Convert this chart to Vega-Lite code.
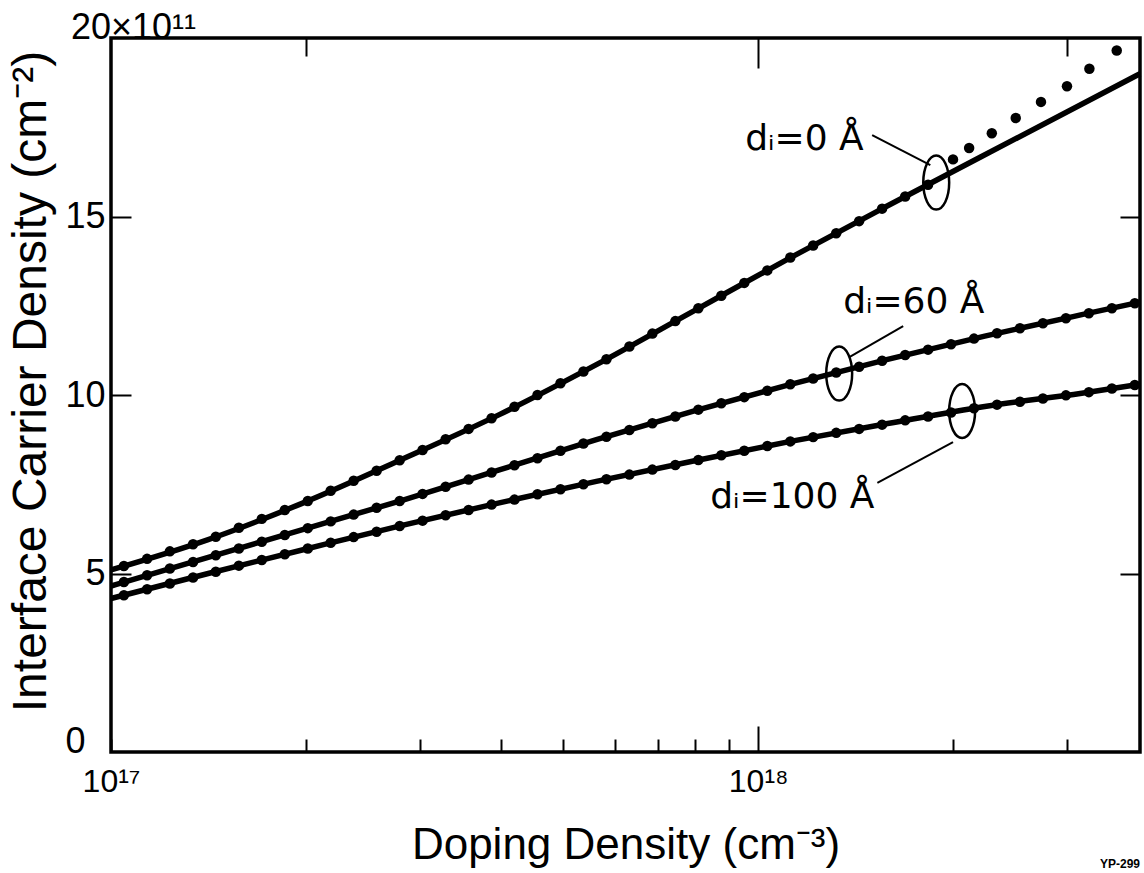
{
  "$schema": "https://vega.github.io/schema/vega-lite/v6.json",
  "width": 1029,
  "height": 714,
  "autosize": {"type": "none"},
  "padding": {"left": 111, "top": 38, "right": 4, "bottom": 121},
  "background": "white",
  "config": {
    "view": {"stroke": "black", "strokeWidth": 3.5},
    "font": "Liberation Sans",
    "axis": {"domain": false, "grid": false, "tickColor": "black", "tickWidth": 2, "labelColor": "black", "titleColor": "black", "labelFont": "Liberation Sans", "titleFont": "Liberation Sans", "titleFontWeight": "normal"}
  },
  "title": {"text": "YP-299", "orient": "bottom", "anchor": "end", "frame": "group", "fontSize": 12, "fontWeight": "bold", "offset": -8},
  "datasets": {
    "lines": [
      {"d": "0", "N": 1e17, "v": 5.1}, {"d": "0", "N": 1.413e17, "v": 5.95}, {"d": "0", "N": 1.995e17, "v": 7.0}, {"d": "0", "N": 2.818e17, "v": 8.2}, {"d": "0", "N": 3.981e17, "v": 9.45}, {"d": "0", "N": 5.623e17, "v": 10.85}, {"d": "0", "N": 7.943e17, "v": 12.35}, {"d": "0", "N": 1.122e18, "v": 13.85}, {"d": "0", "N": 1.585e18, "v": 15.3}, {"d": "0", "N": 2.512e18, "v": 17.2}, {"d": "0", "N": 3.89e18, "v": 19.0},
      {"d": "60", "N": 1e17, "v": 4.65}, {"d": "60", "N": 1.413e17, "v": 5.45}, {"d": "60", "N": 1.995e17, "v": 6.25}, {"d": "60", "N": 2.818e17, "v": 7.05}, {"d": "60", "N": 3.981e17, "v": 7.9}, {"d": "60", "N": 5.623e17, "v": 8.75}, {"d": "60", "N": 7.943e17, "v": 9.55}, {"d": "60", "N": 1.122e18, "v": 10.3}, {"d": "60", "N": 1.585e18, "v": 11.0}, {"d": "60", "N": 2.239e18, "v": 11.65}, {"d": "60", "N": 3.162e18, "v": 12.25}, {"d": "60", "N": 3.89e18, "v": 12.6},
      {"d": "100", "N": 1e17, "v": 4.3}, {"d": "100", "N": 1.413e17, "v": 5.0}, {"d": "100", "N": 1.995e17, "v": 5.68}, {"d": "100", "N": 2.818e17, "v": 6.35}, {"d": "100", "N": 3.981e17, "v": 6.98}, {"d": "100", "N": 5.623e17, "v": 7.58}, {"d": "100", "N": 7.943e17, "v": 8.15}, {"d": "100", "N": 1.122e18, "v": 8.7}, {"d": "100", "N": 1.585e18, "v": 9.2}, {"d": "100", "N": 2.239e18, "v": 9.68}, {"d": "100", "N": 3.162e18, "v": 10.05}, {"d": "100", "N": 3.89e18, "v": 10.3}
    ],
    "dots": [
      {"d": "0", "N": 1.047e17, "v": 5.21}, {"d": "0", "N": 1.137e17, "v": 5.41}, {"d": "0", "N": 1.233e17, "v": 5.62}, {"d": "0", "N": 1.339e17, "v": 5.82}, {"d": "0", "N": 1.452e17, "v": 6.03}, {"d": "0", "N": 1.576e17, "v": 6.28}, {"d": "0", "N": 1.71e17, "v": 6.53}, {"d": "0", "N": 1.856e17, "v": 6.78}, {"d": "0", "N": 2.014e17, "v": 7.03}, {"d": "0", "N": 2.185e17, "v": 7.32}, {"d": "0", "N": 2.371e17, "v": 7.6}, {"d": "0", "N": 2.573e17, "v": 7.88}, {"d": "0", "N": 2.793e17, "v": 8.17}, {"d": "0", "N": 3.03e17, "v": 8.46}, {"d": "0", "N": 3.289e17, "v": 8.76}, {"d": "0", "N": 3.569e17, "v": 9.05}, {"d": "0", "N": 3.873e17, "v": 9.35}, {"d": "0", "N": 4.202e17, "v": 9.67}, {"d": "0", "N": 4.56e17, "v": 10.0}, {"d": "0", "N": 4.949e17, "v": 10.33}, {"d": "0", "N": 5.37e17, "v": 10.66}, {"d": "0", "N": 5.828e17, "v": 11.0}, {"d": "0", "N": 6.324e17, "v": 11.36}, {"d": "0", "N": 6.863e17, "v": 11.72}, {"d": "0", "N": 7.447e17, "v": 12.07}, {"d": "0", "N": 8.082e17, "v": 12.43}, {"d": "0", "N": 8.77e17, "v": 12.78}, {"d": "0", "N": 9.517e17, "v": 13.14}, {"d": "0", "N": 1.033e18, "v": 13.49}, {"d": "0", "N": 1.121e18, "v": 13.85}, {"d": "0", "N": 1.216e18, "v": 14.19}, {"d": "0", "N": 1.32e18, "v": 14.53}, {"d": "0", "N": 1.432e18, "v": 14.87}, {"d": "0", "N": 1.554e18, "v": 15.22}, {"d": "0", "N": 1.687e18, "v": 15.56}, {"d": "0", "N": 1.83e18, "v": 15.89},
      {"d": "0", "N": 2.0e18, "v": 16.6}, {"d": "0", "N": 2.118e18, "v": 16.92}, {"d": "0", "N": 2.296e18, "v": 17.33}, {"d": "0", "N": 2.5e18, "v": 17.76}, {"d": "0", "N": 2.735e18, "v": 18.21}, {"d": "0", "N": 3.0e18, "v": 18.65}, {"d": "0", "N": 3.249e18, "v": 19.14}, {"d": "0", "N": 3.581e18, "v": 19.65},
      {"d": "60", "N": 1.047e17, "v": 4.76}, {"d": "60", "N": 1.137e17, "v": 4.95}, {"d": "60", "N": 1.233e17, "v": 5.14}, {"d": "60", "N": 1.339e17, "v": 5.32}, {"d": "60", "N": 1.452e17, "v": 5.51}, {"d": "60", "N": 1.576e17, "v": 5.7}, {"d": "60", "N": 1.71e17, "v": 5.89}, {"d": "60", "N": 1.856e17, "v": 6.08}, {"d": "60", "N": 2.014e17, "v": 6.27}, {"d": "60", "N": 2.185e17, "v": 6.46}, {"d": "60", "N": 2.371e17, "v": 6.65}, {"d": "60", "N": 2.573e17, "v": 6.84}, {"d": "60", "N": 2.793e17, "v": 7.03}, {"d": "60", "N": 3.03e17, "v": 7.23}, {"d": "60", "N": 3.289e17, "v": 7.43}, {"d": "60", "N": 3.569e17, "v": 7.63}, {"d": "60", "N": 3.873e17, "v": 7.83}, {"d": "60", "N": 4.202e17, "v": 8.03}, {"d": "60", "N": 4.56e17, "v": 8.23}, {"d": "60", "N": 4.949e17, "v": 8.44}, {"d": "60", "N": 5.37e17, "v": 8.64}, {"d": "60", "N": 5.828e17, "v": 8.83}, {"d": "60", "N": 6.324e17, "v": 9.02}, {"d": "60", "N": 6.863e17, "v": 9.21}, {"d": "60", "N": 7.447e17, "v": 9.4}, {"d": "60", "N": 8.082e17, "v": 9.59}, {"d": "60", "N": 8.77e17, "v": 9.77}, {"d": "60", "N": 9.517e17, "v": 9.94}, {"d": "60", "N": 1.033e18, "v": 10.12}, {"d": "60", "N": 1.121e18, "v": 10.3}, {"d": "60", "N": 1.216e18, "v": 10.46}, {"d": "60", "N": 1.32e18, "v": 10.63}, {"d": "60", "N": 1.432e18, "v": 10.79}, {"d": "60", "N": 1.554e18, "v": 10.96}, {"d": "60", "N": 1.687e18, "v": 11.12}, {"d": "60", "N": 1.83e18, "v": 11.27}, {"d": "60", "N": 1.986e18, "v": 11.42}, {"d": "60", "N": 2.155e18, "v": 11.58}, {"d": "60", "N": 2.339e18, "v": 11.73}, {"d": "60", "N": 2.538e18, "v": 11.87}, {"d": "60", "N": 2.754e18, "v": 12.01}, {"d": "60", "N": 2.989e18, "v": 12.15}, {"d": "60", "N": 3.243e18, "v": 12.29}, {"d": "60", "N": 3.52e18, "v": 12.43}, {"d": "60", "N": 3.819e18, "v": 12.57},
      {"d": "100", "N": 1.047e17, "v": 4.39}, {"d": "100", "N": 1.137e17, "v": 4.56}, {"d": "100", "N": 1.233e17, "v": 4.72}, {"d": "100", "N": 1.339e17, "v": 4.89}, {"d": "100", "N": 1.452e17, "v": 5.05}, {"d": "100", "N": 1.576e17, "v": 5.22}, {"d": "100", "N": 1.71e17, "v": 5.38}, {"d": "100", "N": 1.856e17, "v": 5.54}, {"d": "100", "N": 2.014e17, "v": 5.7}, {"d": "100", "N": 2.185e17, "v": 5.86}, {"d": "100", "N": 2.371e17, "v": 6.02}, {"d": "100", "N": 2.573e17, "v": 6.17}, {"d": "100", "N": 2.793e17, "v": 6.33}, {"d": "100", "N": 3.03e17, "v": 6.48}, {"d": "100", "N": 3.289e17, "v": 6.63}, {"d": "100", "N": 3.569e17, "v": 6.78}, {"d": "100", "N": 3.873e17, "v": 6.93}, {"d": "100", "N": 4.202e17, "v": 7.07}, {"d": "100", "N": 4.56e17, "v": 7.22}, {"d": "100", "N": 4.949e17, "v": 7.36}, {"d": "100", "N": 5.37e17, "v": 7.5}, {"d": "100", "N": 5.828e17, "v": 7.64}, {"d": "100", "N": 6.324e17, "v": 7.77}, {"d": "100", "N": 6.863e17, "v": 7.91}, {"d": "100", "N": 7.447e17, "v": 8.04}, {"d": "100", "N": 8.082e17, "v": 8.18}, {"d": "100", "N": 8.77e17, "v": 8.31}, {"d": "100", "N": 9.517e17, "v": 8.44}, {"d": "100", "N": 1.033e18, "v": 8.57}, {"d": "100", "N": 1.121e18, "v": 8.7}, {"d": "100", "N": 1.216e18, "v": 8.82}, {"d": "100", "N": 1.32e18, "v": 8.94}, {"d": "100", "N": 1.432e18, "v": 9.05}, {"d": "100", "N": 1.554e18, "v": 9.17}, {"d": "100", "N": 1.687e18, "v": 9.29}, {"d": "100", "N": 1.83e18, "v": 9.4}, {"d": "100", "N": 1.986e18, "v": 9.51}, {"d": "100", "N": 2.155e18, "v": 9.63}, {"d": "100", "N": 2.339e18, "v": 9.73}, {"d": "100", "N": 2.538e18, "v": 9.81}, {"d": "100", "N": 2.754e18, "v": 9.9}, {"d": "100", "N": 2.989e18, "v": 9.99}, {"d": "100", "N": 3.243e18, "v": 10.08}, {"d": "100", "N": 3.52e18, "v": 10.18}, {"d": "100", "N": 3.819e18, "v": 10.28}
    ],
    "callouts": [
      {"d": "0", "N": 1.884e18, "v": 15.95, "N1": 1.5e18, "v1": 17.28, "N2": 1.845e18, "v2": 16.44, "tN": 9.55e17, "tv": 16.86, "label": "dᵢ=0 Å"},
      {"d": "60", "N": 1.334e18, "v": 10.6, "N1": 1.675e18, "v1": 11.93, "N2": 1.383e18, "v2": 11.06, "tN": 1.353e18, "tv": 12.3, "label": "dᵢ=60 Å"},
      {"d": "100", "N": 2.066e18, "v": 9.55, "N1": 1.528e18, "v1": 7.54, "N2": 2.0e18, "v2": 8.68, "tN": 8.43e17, "tv": 6.83, "label": "dᵢ=100 Å"}
    ]
  },
  "layer": [
    {
      "data": {"name": "lines"},
      "mark": {"type": "line", "color": "black", "strokeWidth": 5.5, "interpolate": "monotone"},
      "encoding": {
        "x": {"field": "N", "type": "quantitative", "scale": {"type": "log", "domain": [1e17, 3.89e18], "nice": false},
          "axis": {"orient": "bottom", "values": [1e17, 2e17, 3e17, 4e17, 5e17, 6e17, 7e17, 8e17, 9e17, 1e18, 2e18, 3e18],
            "labelExpr": "datum.value == 1e17 ? '10¹⁷' : (datum.value == 1e18 ? '10¹⁸' : '')",
            "tickSize": {"condition": {"test": "datum.value == 1e18", "value": -26}, "value": -13},
            "labelPadding": {"condition": {"test": "datum.value == 1e18", "value": 40}, "value": 27},
            "labelFontSize": 32, "labelFlush": false, "labelOverlap": false, "labelBaseline": "top",
            "title": "Doping Density  (cm⁻³)", "titleFontSize": 44, "titleY": 106, "titleBaseline": "alphabetic"}},
        "y": {"field": "v", "type": "quantitative", "scale": {"domain": [0, 20], "nice": false},
          "axis": {"orient": "left", "values": [0, 5, 10, 15, 20],
            "labelExpr": "datum.value == 20 ? '20×10¹¹' : datum.label",
            "tickSize": {"condition": {"test": "datum.value == 0 || datum.value == 20", "value": 0}, "value": -20},
            "labelFontSize": 36, "labelFlush": false, "labelOverlap": false,
            "labelAlign": {"condition": {"test": "datum.value == 20", "value": "center"}, "value": "right"},
            "labelBaseline": {"condition": {"test": "datum.value == 20 || datum.value == 0", "value": "alphabetic"}, "value": "middle"},
            "labelPadding": {"condition": {"test": "datum.value == 20", "value": -22}, "value": 26},
            "title": "Interface Carrier Density  (cm⁻²)", "titleFontSize": 48, "titleX": -80, "titleY": 343, "titleBaseline": "middle", "titleAlign": "center", "titleAngle": -90}},
        "detail": {"field": "d", "type": "nominal"}
      }
    },
    {
      "data": {"name": "dots"},
      "mark": {"type": "circle", "color": "black", "size": 110, "opacity": 1},
      "encoding": {
        "x": {"field": "N", "type": "quantitative", "scale": {"type": "log", "domain": [1e17, 3.89e18], "nice": false}, "axis": null},
        "y": {"field": "v", "type": "quantitative", "scale": {"domain": [0, 20], "nice": false}, "axis": null}
      }
    },
    {
      "data": {"name": "callouts"},
      "mark": {"type": "rule", "color": "black", "strokeWidth": 2},
      "encoding": {
        "x": {"field": "N1", "type": "quantitative", "scale": {"type": "log", "domain": [1e17, 3.89e18], "nice": false}, "axis": null},
        "x2": {"field": "N2"},
        "y": {"field": "v1", "type": "quantitative", "scale": {"domain": [0, 20], "nice": false}, "axis": null},
        "y2": {"field": "v2"}
      }
    },
    {
      "data": {"name": "callouts"},
      "mark": {"type": "text", "color": "black", "fontSize": 36, "font": "DejaVu Sans", "align": "left", "baseline": "alphabetic"},
      "encoding": {
        "x": {"field": "tN", "type": "quantitative", "scale": {"type": "log", "domain": [1e17, 3.89e18], "nice": false}, "axis": null},
        "y": {"field": "tv", "type": "quantitative", "scale": {"domain": [0, 20], "nice": false}, "axis": null},
        "text": {"field": "label"}
      }
    },
    {
      "data": {"name": "callouts"},
      "mark": {"type": "point", "shape": "M0,-1A0.48,1 0 1,1 0,1A0.48,1 0 1,1 0,-1Z", "size": 2916, "filled": false, "stroke": "black", "strokeWidth": 2.5, "opacity": 1},
      "encoding": {
        "x": {"field": "N", "type": "quantitative", "scale": {"type": "log", "domain": [1e17, 3.89e18], "nice": false},
          "axis": {"orient": "top", "values": [2e17, 1e18, 3e18], "labels": false, "title": null,
            "tickSize": {"condition": {"test": "datum.value == 1e18", "value": -30}, "value": -18}}},
        "y": {"field": "v", "type": "quantitative", "scale": {"domain": [0, 20], "nice": false},
          "axis": {"orient": "right", "values": [5, 10, 15], "labels": false, "title": null, "tickSize": -20}}
      }
    }
  ],
  "resolve": {"axis": {"x": "independent", "y": "independent"}}
}
